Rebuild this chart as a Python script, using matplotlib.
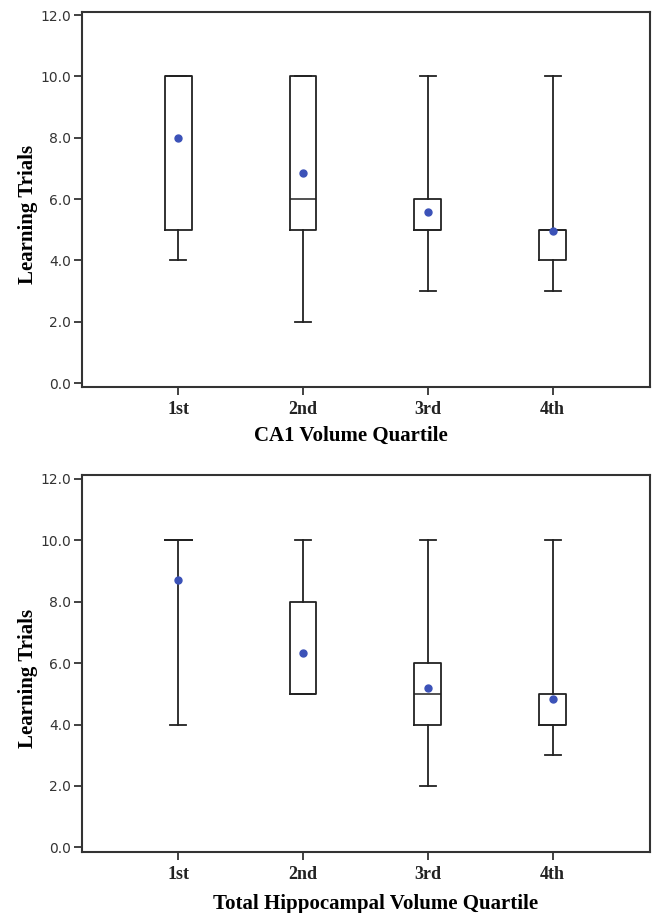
import numpy as np
import matplotlib
matplotlib.use("Agg")
import matplotlib.pyplot as plt

quartiles = ["1st", "2nd", "3rd", "4th"]

# CA1 volume quartile
ca1_lo = [4, 2, 3, 3]
ca1_q1 = [5, 5, 5, 4]
ca1_med = [10, 6, 5, 5]
ca1_q3 = [10, 10, 6, 5]
ca1_hi = [10, 10, 10, 10]
ca1_mean = [7.98, 6.84, 5.59, 4.97]

# total hippocampal volume quartile
tot_lo = [4, 5, 2, 3]
tot_q1 = [10, 5, 4, 4]
tot_med = [10, 5, 5, 4]
tot_q3 = [10, 8, 6, 5]
tot_hi = [10, 10, 10, 10]
tot_mean = [8.71, 6.33, 5.19, 4.84]

line_col = "#222222"
mean_col = "#3b52b8"


def make_stats(lo, q1, med, q3, hi, mean):
    stats = []
    for i in range(len(lo)):
        stats.append(dict(whislo=lo[i], q1=q1[i], med=med[i], q3=q3[i],
                          whishi=hi[i], mean=mean[i], fliers=[]))
    return stats


def draw(ax, stats, xlabel, xlab_x, xlab_y, ylim):
    ax.bxp(stats, positions=[1, 2, 3, 4], widths=0.215, showmeans=True,
           showfliers=False,
           boxprops=dict(color=line_col, linewidth=1.3),
           whiskerprops=dict(color=line_col, linewidth=1.3),
           capprops=dict(color=line_col, linewidth=1.3),
           capwidths=0.13,
           medianprops=dict(color=line_col, linewidth=1.1),
           meanprops=dict(marker="o", markerfacecolor=mean_col,
                          markeredgecolor=mean_col, markersize=5))
    ax.set_xlim(0.23, 4.78)
    ax.set_ylim(*ylim)
    ax.set_yticks(np.arange(0, 13, 2))
    ax.set_yticklabels(["%.1f" % v for v in np.arange(0, 13, 2)],
                       fontsize=10, color="#333333")
    ax.set_xticks([1, 2, 3, 4])
    ax.set_xticklabels(quartiles, fontfamily="Liberation Serif",
                       fontweight="bold", fontsize=13, color="#222222")
    ax.tick_params(axis="both", length=6, width=1.3, color="#333333", pad=2)
    ax.tick_params(axis="x", pad=4)
    for sp in ax.spines.values():
        sp.set_linewidth(1.5)
        sp.set_color("#333333")
    ax.set_ylabel("Learning Trials", fontfamily="Liberation Serif",
                  fontweight="bold", fontsize=15)
    ax.yaxis.set_label_coords(-0.077, 0.46)
    ax.set_xlabel(xlabel, fontfamily="Liberation Serif",
                  fontweight="bold", fontsize=15)
    ax.xaxis.set_label_coords(xlab_x, xlab_y)


fig = plt.figure(figsize=(6.52, 9.13), dpi=100)
ax1 = fig.add_axes([0.1258, 0.5761, 0.8712, 0.4108])
ax2 = fig.add_axes([0.1258, 0.0668, 0.8712, 0.4129])

draw(ax1, make_stats(ca1_lo, ca1_q1, ca1_med, ca1_q3, ca1_hi, ca1_mean),
     "CA1 Volume Quartile", 0.474, -0.104, (-0.13, 12.1))
draw(ax2, make_stats(tot_lo, tot_q1, tot_med, tot_q3, tot_hi, tot_mean),
     "Total Hippocampal Volume Quartile", 0.516, -0.112, (-0.15, 12.12))

fig.savefig("out.png", dpi=100)
